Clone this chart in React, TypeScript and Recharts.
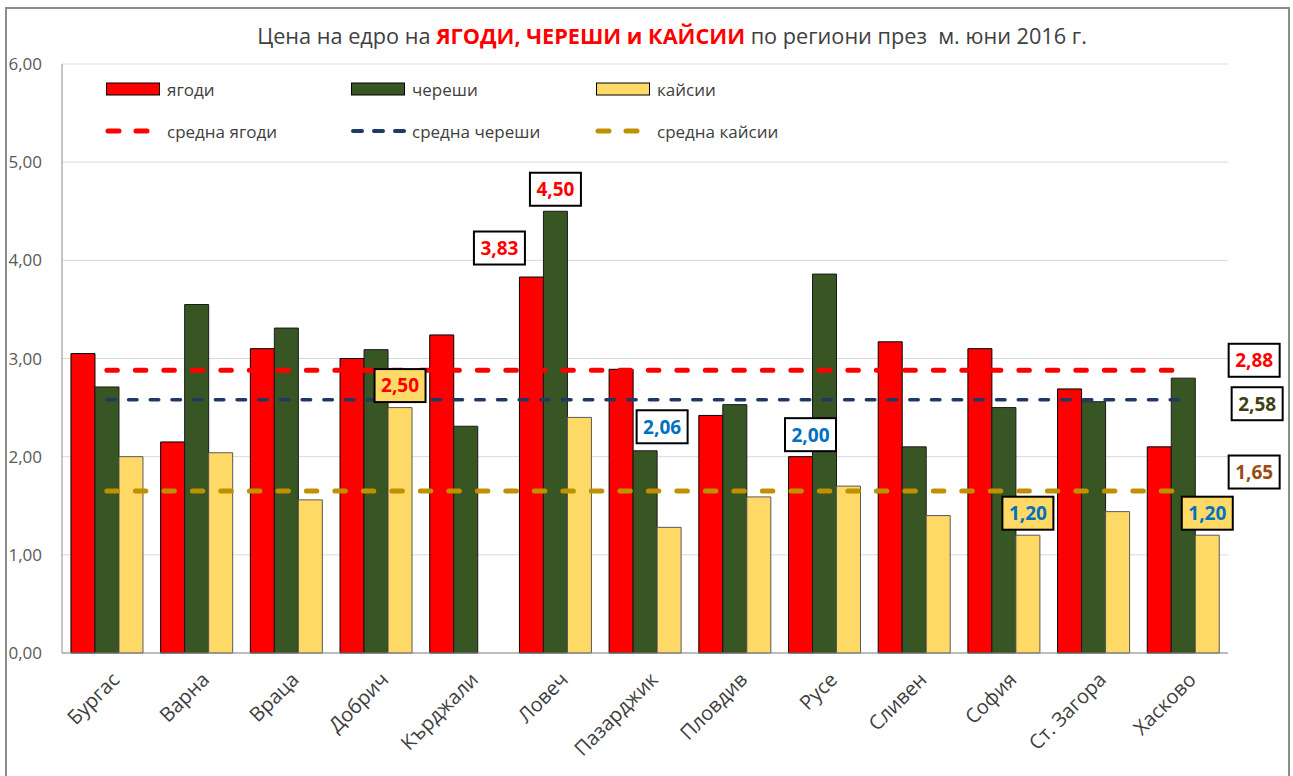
import React from 'react';
import {
  ComposedChart, Bar, Line, XAxis, YAxis, CartesianGrid, Legend, LabelList,
} from 'recharts';

// ---------- DATA ----------
const categories = ['Бургас', 'Варна', 'Враца', 'Добрич', 'Кърджали', 'Ловеч', 'Пазарджик', 'Пловдив', 'Русе', 'Сливен', 'София', 'Ст. Загора', 'Хасково'];
const strawberries = [3.05, 2.15, 3.10, 3.00, 3.24, 3.83, 2.89, 2.42, 2.00, 3.17, 3.10, 2.69, 2.10];
const cherries = [2.71, 3.55, 3.31, 3.09, 2.31, 4.50, 2.06, 2.53, 3.86, 2.10, 2.50, 2.56, 2.80];
const apricots: (number | null)[] = [2.00, 2.04, 1.56, 2.50, null, 2.40, 1.28, 1.59, 1.70, 1.40, 1.20, 1.44, 1.20];
const avgStrawberries = 2.88;
const avgCherries = 2.58;
const avgApricots = 1.65;
const yTicks = [0, 1, 2, 3, 4, 5, 6];

const seriesNames: Record<string, string> = {
  s: 'ягоди', c: 'череши', a: 'кайсии',
  as: 'средна ягоди', ac: 'средна череши', aa: 'средна кайсии',
};

// categories whose values are shown in boxes
const labelledS = ['Ловеч', 'Русе'];
const labelledC = ['Ловеч', 'Пазарджик'];
const labelledA = ['Добрич', 'София', 'Хасково'];

const data = categories.map((name, i) => ({
  name,
  s: strawberries[i],
  c: cherries[i],
  a: apricots[i],
  as: avgStrawberries,
  ac: avgCherries,
  aa: avgApricots,
}));

// ---------- STYLES ----------
const FONT = '"Open Sans", "Noto Sans", sans-serif';
const RED = '#FF0000';
const GREEN = '#375623';
const YELLOW = '#FFD966';
const BLUE = '#0070C0';
const NAVY = '#1F3864';
const GOLD = '#BF9000';
const TXT = '#404040';

const boxStyle: Record<string, Record<string, { dx: number; dy: number; color: string; fill: string }>> = {
  s: {
    'Ловеч': { dx: -32, dy: -29, color: RED, fill: '#fff' },
    'Русе': { dx: 10, dy: -22, color: BLUE, fill: '#fff' },
  },
  c: {
    'Ловеч': { dx: 0, dy: -22, color: RED, fill: '#fff' },
    'Пазарджик': { dx: 17, dy: -24, color: BLUE, fill: '#fff' },
  },
  a: {
    'Добрич': { dx: 0, dy: -22, color: RED, fill: YELLOW },
    'София': { dx: 0, dy: -22, color: BLUE, fill: YELLOW },
    'Хасково': { dx: 0, dy: -22, color: BLUE, fill: YELLOW },
  },
};
const avgBoxStyle: Record<string, { dx: number; dy: number; color: string }> = {
  as: { dx: 71, dy: -10, color: RED },
  ac: { dx: 74, dy: 4, color: '#3F3F14' },
  aa: { dx: 71, dy: -19, color: '#9C4A14' },
};
const labelledMap: Record<string, string[]> = { s: labelledS, c: labelledC, a: labelledA };
const valuesMap: Record<string, (number | null)[]> = { s: strawberries, c: cherries, a: apricots };

const fmt = (v: number) => v.toFixed(2).replace('.', ',');

const Box = ({ cx, cy, text, color, fill }: any) => (
  <g>
    <rect x={cx - 25.5} y={cy - 16.5} width={51} height={33} fill={fill} stroke="#000" strokeWidth={2} />
    <text x={cx} y={cy} dy="0.36em" textAnchor="middle" fontFamily={FONT} fontWeight={700} fontSize={19} fill={color}>
      {text}
    </text>
  </g>
);

// LabelList gets the category name as its value, the bar geometry from the library
const barLabel = (key: string) => (props: any) => {
  const { x, y, width, value } = props;
  const cat = String(value);
  if (!labelledMap[key].includes(cat)) return null;
  const v = valuesMap[key][categories.indexOf(cat)];
  if (v == null) return null;
  const st = boxStyle[key][cat];
  return <Box cx={Number(x) + Number(width) / 2 + st.dx} cy={Number(y) + st.dy} text={fmt(v)} color={st.color} fill={st.fill} />;
};

const avgLabel = (key: string) => (props: any) => {
  const { x, y, index, value } = props;
  if (index !== categories.length - 1) return null;
  const st = avgBoxStyle[key];
  return <Box cx={Number(x) + st.dx} cy={Number(y) + st.dy} text={fmt(Number(value))} color={st.color} fill="#fff" />;
};

const XTick = (props: any) => {
  const { x, y, payload } = props;
  return (
    <g transform={`translate(${x + 14},${y + 20})`}>
      <text x={0} y={0} textAnchor="end" transform="rotate(-45)" fontFamily={FONT} fontSize={20} fill={TXT}>
        {payload.value}
      </text>
    </g>
  );
};

const legendStyle: Record<string, { kind: 'bar' | 'line'; color: string; stroke?: string; width?: number; dash?: string }> = {
  s: { kind: 'bar', color: RED, stroke: '#000' },
  c: { kind: 'bar', color: GREEN, stroke: '#000' },
  a: { kind: 'bar', color: YELLOW, stroke: '#000' },
  as: { kind: 'line', color: RED, width: 5, dash: '11 17' },
  ac: { kind: 'line', color: NAVY, width: 4, dash: '9 12' },
  aa: { kind: 'line', color: GOLD, width: 5, dash: '11 17' },
};

const LegendContent = (props: any) => {
  const payload = props.payload || [];
  const order = ['s', 'c', 'a', 'as', 'ac', 'aa'];
  const items = order
    .map((k) => payload.find((p: any) => p.dataKey === k))
    .filter(Boolean);
  return (
    <div style={{ display: 'grid', gridTemplateColumns: '245px 245px 245px', rowGap: 0 }}>
      {items.map((p: any) => {
        const st = legendStyle[p.dataKey];
        return (
          <div key={p.dataKey} style={{ display: 'flex', alignItems: 'center', height: 42 }}>
            <svg width={56} height={16} style={{ marginRight: 6 }}>
              {st.kind === 'bar' ? (
                <rect x={1.5} y={2} width={53} height={12} fill={st.color} stroke={st.stroke} strokeWidth={1} />
              ) : (
                <line x1={3} y1={8} x2={54} y2={8} stroke={st.color} strokeWidth={st.width} strokeDasharray={st.dash} strokeLinecap="round" />
              )}
            </svg>
            <span style={{ fontFamily: FONT, fontSize: 17, color: TXT }}>{seriesNames[p.dataKey]}</span>
          </div>
        );
      })}
    </div>
  );
};

const edgeTicks = [...categories.map((_, i) => i), categories.length];

export default function App() {
  return (
    <div style={{ position: 'fixed', left: 0, top: 0, width: 1293, height: 776, overflow: 'hidden', background: '#fff' }}>
      <div style={{ position: 'absolute', left: 5, top: 7, width: 1281, height: 820, border: '2px solid #8C8C8C' }} />
      <div
        style={{
          position: 'absolute', left: 672, top: 21, transform: 'translateX(-50%)', whiteSpace: 'pre',
          fontFamily: FONT, fontSize: 21.7, color: TXT,
        }}
      >
        Цена на едро на <span style={{ color: RED, fontWeight: 700 }}>ЯГОДИ, ЧЕРЕШИ и КАЙСИИ</span> по региони през  м. юни 2016 г.
      </div>
      <div style={{ position: 'absolute', left: 0, top: 0 }}>
        <ComposedChart
          width={1293}
          height={776}
          data={data}
          margin={{ top: 64, right: 65, left: 12, bottom: 23 }}
          barCategoryGap="10%"
          barGap={0}
        >
          <CartesianGrid horizontal vertical={false} stroke="#D9D9D9" />
          <XAxis
            xAxisId="edges"
            type="number"
            domain={[0, categories.length]}
            ticks={edgeTicks}
            height={0}
            axisLine={false}
            tickLine={{ stroke: '#7F7F7F' }}
            tickSize={7}
            tick={() => <g />}
            allowDataOverflow
          />
          <XAxis
            dataKey="name"
            interval={0}
            height={100}
            axisLine={{ stroke: '#8C8C8C' }}
            tickLine={false}
            tick={<XTick />}
          />
          <XAxis xAxisId="top" orientation="top" type="number" domain={[0, 1]} height={0} tick={false} tickLine={false} axisLine={{ stroke: '#A6A6A6' }} />
          <YAxis
            domain={[0, 6]}
            ticks={yTicks}
            width={50}
            axisLine={{ stroke: '#8C8C8C' }}
            tickLine={false}
            tickMargin={14}
            tickFormatter={fmt}
            tick={{ fontFamily: FONT, fontSize: 17, fill: '#595959' }}
          />
          <YAxis yAxisId="right" orientation="right" domain={[0, 6]} width={0} tick={false} tickLine={false} axisLine={{ stroke: '#A6A6A6' }} />
          <Legend
            layout="horizontal"
            verticalAlign="middle"
            align="center"
            content={<LegendContent />}
            wrapperStyle={{ left: 105, top: 68, width: 760, height: 84 }}
          />
          <Bar dataKey="s" name={seriesNames.s} fill={RED} stroke="#000" strokeWidth={1} isAnimationActive={false}>
            <LabelList dataKey="name" content={barLabel('s')} />
          </Bar>
          <Bar dataKey="c" name={seriesNames.c} fill={GREEN} stroke="#1a1a1a" strokeWidth={1} isAnimationActive={false}>
            <LabelList dataKey="name" content={barLabel('c')} />
          </Bar>
          <Bar dataKey="a" name={seriesNames.a} fill={YELLOW} stroke="#595959" strokeWidth={1} isAnimationActive={false}>
            <LabelList dataKey="name" content={barLabel('a')} />
          </Bar>
          <Line dataKey="as" name={seriesNames.as} stroke={RED} strokeWidth={5} strokeDasharray="10.5 18" strokeLinecap="round" dot={false} activeDot={false} isAnimationActive={false}>
            <LabelList dataKey="as" content={avgLabel('as')} />
          </Line>
          <Line dataKey="ac" name={seriesNames.ac} stroke={NAVY} strokeWidth={3.5} strokeDasharray="8.5 13.2" strokeLinecap="round" dot={false} activeDot={false} isAnimationActive={false}>
            <LabelList dataKey="ac" content={avgLabel('ac')} />
          </Line>
          <Line dataKey="aa" name={seriesNames.aa} stroke={GOLD} strokeWidth={5} strokeDasharray="10.5 18" strokeLinecap="round" dot={false} activeDot={false} isAnimationActive={false}>
            <LabelList dataKey="aa" content={avgLabel('aa')} />
          </Line>
        </ComposedChart>
      </div>
    </div>
  );
}
